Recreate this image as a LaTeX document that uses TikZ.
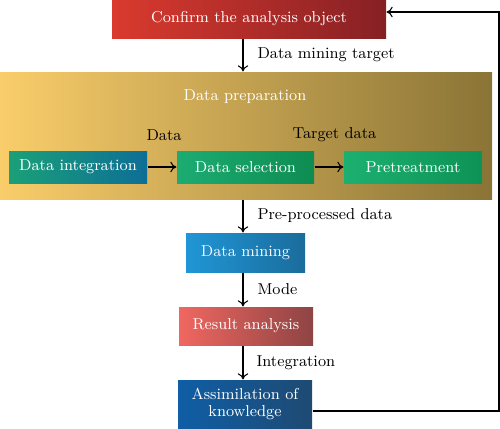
\documentclass[tikz,border=0pt]{standalone}
\usepackage{tikz}
\usetikzlibrary{arrows.meta}

\tikzset{
  stage/.style={shade, text=white, inner sep=0pt, align=center, font=\fontsize{9}{10}\selectfont},
  lbl/.style={inner sep=0pt, font=\fontsize{9}{10}\selectfont},
  >={To[length=3.5pt,width=6pt]},
}

\begin{document}
\begin{tikzpicture}[line width=0.6pt]
\useasboundingbox (0,0) rectangle (10,8.56);
% Top box and the data preparation panel
\node[stage, left color={rgb,255:red,218;green,58;blue,46}, middle color={rgb,255:red,186;green,34;blue,48}, right color={rgb,255:red,134;green,32;blue,36}, minimum width=5.48cm, minimum height=0.76cm] (conf) at (4.98,8.18) {Confirm the analysis object};
\node[stage, left color={rgb,255:red,249;green,205;blue,106}, middle color={rgb,255:red,222;green,182;blue,88}, right color={rgb,255:red,138;green,116;blue,54}, minimum width=9.84cm, minimum height=2.54cm] (prep) at (4.92,5.85) {};
\node[lbl, text=white] (preptitle) at (4.90,6.62) {Data preparation};
% The three steps inside the panel
\node[stage, left color={rgb,255:red,26;green,160;blue,120}, middle color={rgb,255:red,18;green,165;blue,142}, right color={rgb,255:red,14;green,110;blue,150}, minimum width=2.76cm, minimum height=0.64cm] (integ) at (1.56,5.22) {Data integration};
\node[stage, left color={rgb,255:red,28;green,172;blue,114}, right color={rgb,255:red,14;green,140;blue,82}, minimum width=2.74cm, minimum height=0.64cm] (select) at (4.91,5.22) {Data selection};
\node[stage, left color={rgb,255:red,28;green,176;blue,112}, right color={rgb,255:red,14;green,146;blue,86}, minimum width=2.76cm, minimum height=0.64cm] (pretreat) at (8.26,5.22) {Pretreatment};
\draw[->] (integ) -- (select);
\draw[->] (select) -- (pretreat);
\node[lbl] (ldata) at (3.28,5.86) {Data};
\node[lbl] (ltarget) at (6.69,5.86) {Target data};
% The column below
\node[stage, left color={rgb,255:red,32;green,150;blue,214}, right color={rgb,255:red,26;green,108;blue,156}, minimum width=2.38cm, minimum height=0.78cm] (mine) at (4.91,3.51) {Data mining};
\node[stage, left color={rgb,255:red,240;green,103;blue,96}, right color={rgb,255:red,142;green,68;blue,68}, minimum width=2.68cm, minimum height=0.76cm] (result) at (4.92,2.04) {Result analysis};
\node[stage, left color={rgb,255:red,15;green,94;blue,166}, right color={rgb,255:red,30;green,74;blue,114}, minimum width=2.68cm, minimum height=0.96cm] (assim) at (4.90,0.48) {Assimilation of\\knowledge};
\coordinate (spine) at (4.86,0);
\draw[->] (conf.south -| spine) -- (prep.north -| spine);
\draw[->] (prep.south -| spine) -- (mine.north -| spine);
\draw[->] (mine.south -| spine) -- (result.north -| spine);
\draw[->] (result.south -| spine) -- (assim.north -| spine);
\node[lbl, anchor=west] (ltgt) at (5.14,7.46) {Data mining target};
\node[lbl, anchor=west] (lpre) at (5.14,4.24) {Pre-processed data};
\node[lbl, anchor=west] (lmode) at (5.14,2.78) {Mode};
\node[lbl, anchor=west] (lint) at (5.12,1.30) {Integration};
% Feedback loop back to the top
\coordinate (back) at (9.98,0.34);
\draw[->] (assim.east |- back) -- (back) |- ([yshift=0.14cm]conf.east);
\end{tikzpicture}
\end{document}
